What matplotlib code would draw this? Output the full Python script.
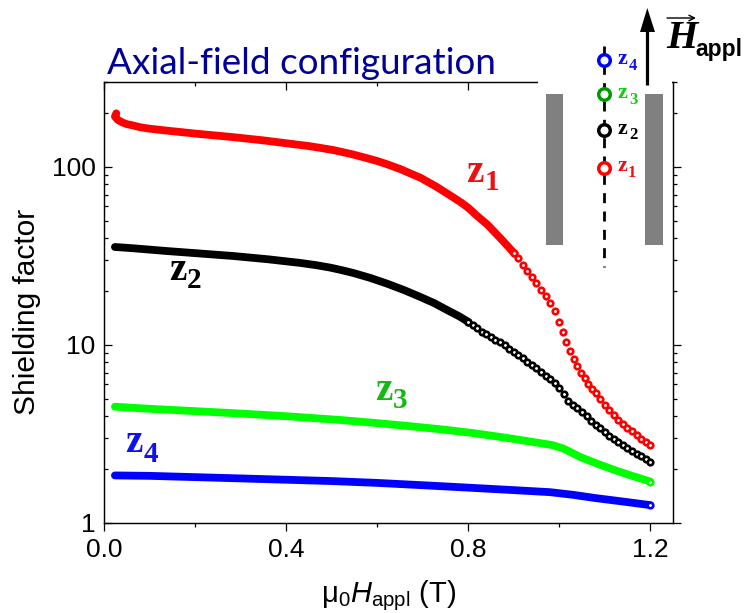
import matplotlib
matplotlib.use("Agg")
import matplotlib.pyplot as plt
from matplotlib.patches import Rectangle, Polygon

plt.rcParams['font.family'] = ['Liberation Sans', 'DejaVu Sans']
plt.rcParams['mathtext.fontset'] = 'custom'
plt.rcParams['mathtext.rm'] = 'Liberation Sans'
plt.rcParams['mathtext.it'] = 'Liberation Sans:italic'
plt.rcParams['mathtext.bf'] = 'Liberation Sans:bold'

# solid looking part of each curve (points overlap completely there)
red_x = [0.027, 0.024, 0.030, 0.040, 0.050, 0.064, 0.080, 0.100, 0.138, 0.200, 0.284, 0.350, 0.409, 0.450, 0.475,
         0.503, 0.525, 0.547, 0.575, 0.600, 0.622, 0.650, 0.675, 0.695, 0.730, 0.767, 0.785, 0.800, 0.820, 0.842,
         0.870, 0.900]
red_y = [200, 192, 184, 178, 174, 171, 167, 164, 160, 154, 147, 141, 135, 131, 128,
         124.5, 121, 117.5, 112.5, 108, 103.5, 97.5, 91.5, 87, 77.5, 67.5, 63, 59, 53, 47.5,
         40, 33]
black_x = [0.024, 0.060, 0.138, 0.200, 0.284, 0.360, 0.431, 0.465, 0.497, 0.520, 0.547, 0.585, 0.622, 0.660, 0.695,
           0.725, 0.754, 0.780, 0.800]
black_y = [35.5, 35, 33.7, 32.8, 31.6, 30.3, 28.9, 28.1, 27.2, 26.4, 25.4, 23.8, 22.1, 20.3, 18.6,
           17.2, 15.7, 14.5, 13.5]
green_x = [0.024, 0.100, 0.200, 0.300, 0.400, 0.519, 0.600, 0.666, 0.740, 0.811, 0.880, 0.958, 0.985,
           1.009, 1.046, 1.080, 1.120, 1.160, 1.200]
green_y = [4.5, 4.38, 4.25, 4.12, 3.98, 3.79, 3.64, 3.51, 3.36, 3.2, 3.02, 2.81, 2.74,
           2.62, 2.35, 2.17, 1.99, 1.84, 1.71]
blue_x = [0.024, 0.100, 0.200, 0.300, 0.400, 0.500, 0.600, 0.700, 0.800, 0.900, 0.980, 1.030, 1.080, 1.140, 1.200]
blue_y = [1.85, 1.84, 1.81, 1.78, 1.75, 1.72, 1.68, 1.63, 1.58, 1.53, 1.49, 1.44, 1.38, 1.32, 1.26]

# part where the single open circles can be seen
red_open_x = [0.90, 0.91, 0.92, 0.93, 0.94, 0.95, 0.96, 0.97, 0.98, 0.99, 1.00, 1.008, 1.016, 1.024, 1.032, 1.04, 1.048,
              1.056, 1.064, 1.072, 1.08, 1.09, 1.10, 1.11, 1.12, 1.13, 1.14, 1.15, 1.16, 1.17, 1.18, 1.19, 1.20]
red_open_y = [33, 30.6, 28.3, 26.2, 24, 22.2, 20.4, 18.9, 17.3, 15.5, 13.4, 11.9, 10.4, 9.2, 8.3, 7.6, 7,
              6.5, 6.05, 5.65, 5.35, 4.95, 4.6, 4.3, 4.02, 3.8, 3.6, 3.42, 3.27, 3.12, 2.98, 2.86, 2.74]
black_open_x = [0.80, 0.81, 0.82, 0.83, 0.84, 0.85, 0.86, 0.87, 0.88, 0.89, 0.90, 0.91, 0.92, 0.93, 0.94, 0.95, 0.96,
                0.97, 0.98, 0.99, 1.00, 1.01, 1.02, 1.03, 1.04, 1.05, 1.06, 1.07, 1.08, 1.09, 1.10, 1.11, 1.12, 1.13,
                1.14, 1.15, 1.16, 1.17, 1.18, 1.19, 1.20]
black_open_y = [13.5, 13.0, 12.4, 11.9, 11.5, 11.1, 10.7, 10.4, 9.95, 9.5, 9.1, 8.75, 8.4, 8.05, 7.75, 7.4, 7.05,
                6.7, 6.4, 6.1, 5.75, 5.3, 4.85, 4.6, 4.4, 4.2, 4.0, 3.75, 3.55, 3.4, 3.25, 3.1, 2.98, 2.85,
                2.75, 2.63, 2.54, 2.45, 2.37, 2.28, 2.2]

fig = plt.figure(figsize=(7.46, 6.13), dpi=100)
ax = fig.add_axes([104 / 746, (613 - 523) / 613, (673 - 104) / 746, (523 - 82) / 613])

ms_open = 4.0
mew_open = 1.9
for xs, ys, col in [(red_x, red_y, '#ff0000'), (black_x, black_y, 'black'),
                    (green_x, green_y, '#00ff00'), (blue_x, blue_y, '#0000ff')]:
    ax.plot(xs, ys, '-', color=col, lw=5.6, solid_capstyle='round', solid_joinstyle='round')
    ax.plot(xs[-1:], ys[-1:], 'o', color=col, mfc='white', ms=ms_open, mew=mew_open)

ax.plot(red_open_x, red_open_y, 'o', color='#ff0000', mfc='white', ms=ms_open, mew=mew_open)
ax.plot(black_open_x, black_open_y, 'o', color='black', mfc='white', ms=ms_open, mew=mew_open)

ax.set_yscale('log')
ax.set_xlim(0, 1.25)
ax.set_ylim(1, 300)
ax.set_xticks([0, 0.4, 0.8, 1.2])
ax.set_xticklabels(['0.0', '0.4', '0.8', '1.2'])
ax.set_xticks([0.2, 0.6, 1.0], minor=True)
ax.set_yticks([1, 10, 100])
ax.set_yticklabels(['1', '10', '100'])
minor_y = [2, 3, 4, 5, 6, 7, 8, 9, 20, 30, 40, 50, 60, 70, 80, 90, 200, 300]
ax.set_yticks(minor_y, minor=True)
ax.set_yticklabels([], minor=True)
ax.tick_params(axis='x', which='major', direction='out', length=5.5, width=0.9, labelsize=19, pad=5)
ax.tick_params(axis='x', which='minor', direction='out', length=3, width=0.9)
ax.tick_params(axis='y', which='major', direction='in', length=5.5, width=0.9, labelsize=19, pad=6)
ax.tick_params(axis='y', which='minor', direction='in', length=3, width=0.9)
ax.set_xlabel(r'$\mathrm{μ}_{\mathrm{0}}\mathit{H}_{\mathrm{appl}}$ (T)', fontsize=21)
ax.set_ylabel('Shielding factor', fontsize=21.5)
ax.xaxis.set_label_coords(0.5, -0.125)
ax.yaxis.set_label_coords(-0.11, 0.478)
for s in ax.spines.values():
    s.set_linewidth(0.9)

# mirrored axes, the ticks of these go the other way
top = ax.twiny()
top.set_xlim(0, 1.25)
top.set_xticks([0, 0.4, 0.8, 1.2])
top.set_xticks([0.2, 0.6, 1.0], minor=True)
top.set_xticklabels([])
top.tick_params(axis='x', which='major', direction='in', length=5.5, width=0.9)
top.tick_params(axis='x', which='minor', direction='in', length=3, width=0.9)
right = ax.twinx()
right.set_yscale('log')
right.set_ylim(1, 300)
right.set_yticks([1, 10, 100])
right.set_yticks(minor_y, minor=True)
right.set_yticklabels([])
right.set_yticklabels([], minor=True)
right.tick_params(axis='y', which='major', direction='out', length=5.5, width=0.9)
right.tick_params(axis='y', which='minor', direction='out', length=3, width=0.9)

# pasted sketch and text labels, in picture pixels
ov = fig.add_axes([0, 0, 1, 1], zorder=10)
ov.set_xlim(0, 746)
ov.set_ylim(613, 0)
ov.axis('off')
ov.patch.set_alpha(0)

ov.add_patch(Rectangle((537.5, 70), 134.5, 22, fc='white', ec='none'))
ov.add_patch(Rectangle((545.7, 94), 17.5, 151, fc='#808080', ec='none'))
ov.add_patch(Rectangle((645, 94), 17.7, 151, fc='#808080', ec='none'))
ov.plot([603.7, 603.7], [46, 267], color='black', lw=2, linestyle=(0, (3.6, 3)))
for yc, col in [(60, '#0000ff'), (94, '#009900'), (130, 'black'), (168, '#ff0000')]:
    ov.plot([603.7], [yc], 'o', color=col, mfc='white', ms=8.3, mew=2.5)
ov.plot([647.3, 647.3], [85, 30], color='black', lw=2.3, solid_capstyle='butt')
ov.add_patch(Polygon([[640, 32], [655, 32], [647.3, 8]], fc='black', ec='none'))

ov.text(107, 74, 'Axial-field configuration', family='Lato', fontsize=26.6, color='#000099', va='baseline')


def zlabel(x, y, num, col, size, sub, dx, dy):
    ov.text(x, y, 'z', family='Liberation Serif', weight='bold', fontsize=size, color=col, ha='center', va='center')
    ov.text(x + dx, y + dy, num, family='Liberation Serif', weight='bold', fontsize=sub, color=col, ha='center', va='center')


zlabel(475, 172, '1', '#ee1111', 28, 21, 17, 10)
zlabel(178, 271, '2', 'black', 28, 21, 16, 10)
zlabel(384, 390, '3', '#11bb11', 28, 21, 16, 11)
zlabel(134, 443, '4', '#1111ee', 28, 21, 17, 12)
zlabel(622, 59, '4', '#1111ee', 16, 12, 11, 7)
zlabel(622, 93, '3', '#11cc11', 16, 12, 11, 7)
zlabel(622, 129, '2', 'black', 16, 12, 11, 6)
zlabel(622, 166, '1', '#ee1111', 16, 12, 10, 7)

ov.text(682, 48, 'H', family='Liberation Serif', weight='bold', style='italic', fontsize=29, ha='center', va='baseline')
ov.text(695, 56, 'appl', family='Liberation Sans', weight='bold', fontsize=16.5, va='baseline')
ov.annotate('', xy=(696, 18), xytext=(667, 18), arrowprops=dict(arrowstyle='->', lw=1, color='black', shrinkA=0, shrinkB=0))

fig.savefig('out.png', dpi=100)
